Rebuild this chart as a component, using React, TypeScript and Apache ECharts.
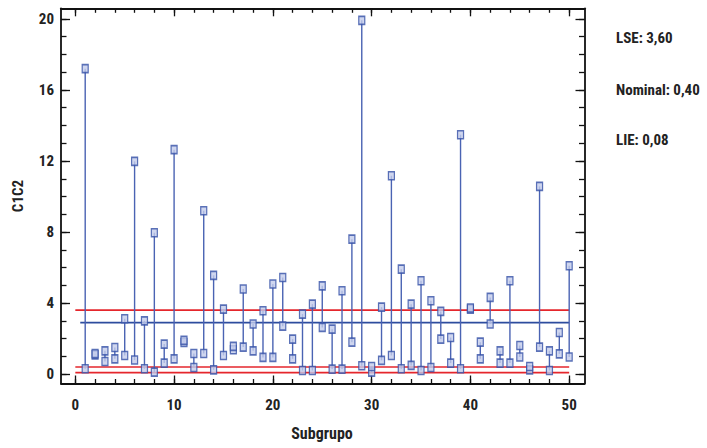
import React, { useEffect, useRef } from "react";
import * as echarts from "echarts";

// Subgroup numbers and the minimum / maximum C1C2 reading of each subgroup
const subgrupos: number[] = Array.from({ length: 50 }, (_, i) => i + 1);
const minimos: number[] = [
  0.3, 1.08, 0.71, 0.86, 1.05, 0.79, 0.3, 0.11, 0.62, 0.86,
  1.78, 0.37, 1.16, 0.24, 1.05, 1.37, 1.52, 1.31, 0.94, 0.94,
  2.7, 0.86, 0.2, 0.2, 2.63, 0.28, 0.28, 1.8, 0.47, 0.11,
  0.77, 1.05, 0.3, 0.49, 0.2, 0.37, 1.97, 0.62, 0.3, 3.66,
  0.86, 2.82, 0.62, 0.62, 0.96, 0.24, 1.52, 0.2, 1.14, 0.96,
];
const maximos: number[] = [
  17.2, 1.15, 1.31, 1.5, 3.12, 11.98, 3.0, 7.96, 1.69, 12.64,
  1.9, 1.16, 9.2, 5.56, 3.66, 1.56, 4.79, 2.82, 3.57, 5.07,
  5.44, 1.97, 3.38, 3.94, 4.97, 2.53, 4.69, 7.6, 19.92, 0.43,
  3.77, 11.17, 5.91, 3.94, 5.26, 4.13, 3.53, 2.06, 13.48, 3.72,
  1.8, 4.32, 1.31, 5.26, 1.61, 0.43, 10.57, 1.31, 2.34, 6.1,
];

// Specification limits and the centre line
const LSE = 3.6;
const nominal = 0.4;
const LIE = 0.08;
const lineaCentral = 2.9;

// Axis ticks and labels
const xEtiquetas: number[] = [0, 10, 20, 30, 40, 50];
const xMenores: number[] = Array.from({ length: 26 }, (_, i) => i * 2);
const yEtiquetas: number[] = [0, 4, 8, 12, 16, 20];
const yMenores: number[] = Array.from({ length: 21 }, (_, i) => i);

const FONT = '"Liberation Sans Narrow", "Arial Narrow", "Roboto Condensed", "Liberation Sans", sans-serif';
const X_MIN = -1.45;
const X_MAX = 51.55;
const Y_MIN = -0.53;
const Y_MAX = 20.6;

const fmtComa = (v: number) => v.toFixed(2).replace(".", ",");

export default function App() {
  const ref = useRef<HTMLDivElement>(null);

  useEffect(() => {
    if (!ref.current) return;
    const chart = echarts.init(ref.current, undefined, { renderer: "svg" });

    const baseX = (position: "bottom" | "top", ticks: number[], len: number, labels: boolean, line: boolean) => ({
      type: "value",
      position,
      min: X_MIN,
      max: X_MAX,
      axisLine: { show: line, onZero: false, lineStyle: { color: "#111", width: 1.8 } },
      axisTick: { show: true, inside: true, length: len, customValues: ticks, lineStyle: { color: "#111", width: 1.3 } },
      axisLabel: labels
        ? { show: true, customValues: xEtiquetas, margin: 14, color: "#222", fontSize: 15, fontWeight: "bold", fontFamily: FONT }
        : { show: false },
      splitLine: { show: false },
    });

    const baseY = (position: "left" | "right", ticks: number[], len: number, labels: boolean, line: boolean) => ({
      type: "value",
      position,
      min: Y_MIN,
      max: Y_MAX,
      axisLine: { show: line, onZero: false, lineStyle: { color: "#111", width: 1.8 } },
      axisTick: { show: true, inside: true, length: len, customValues: ticks, lineStyle: { color: "#111", width: 1.3 } },
      axisLabel: labels
        ? { show: true, customValues: yEtiquetas, margin: 7, color: "#222", fontSize: 15, fontWeight: "bold", fontFamily: FONT }
        : { show: false },
      splitLine: { show: false },
    });

    const extremos = subgrupos.map((s, i) => [s, minimos[i], maximos[i]]);
    const puntosMin = subgrupos.map((s, i) => [s, minimos[i]]);
    const puntosMax = subgrupos.map((s, i) => [s, maximos[i]]);

    const horizontal = (y: number, x0: number, color: string, width: number) => ({
      type: "line",
      data: [[x0, y], [50, y]],
      showSymbol: false,
      symbol: "none",
      silent: true,
      lineStyle: { color, width },
      z: 3,
    });

    const marcador = {
      type: "scatter",
      symbol: "rect",
      symbolSize: [6, 8],
      itemStyle: { color: "#c3cceb", borderColor: "#3550a6", borderWidth: 1.4 },
      z: 5,
    };

    chart.setOption({
      animation: false,
      grid: { left: 61, right: 122.5, top: 8.3, bottom: 64.5, containLabel: false },
      xAxis: [
        baseX("bottom", xEtiquetas, 8, true, true),
        baseX("bottom", xMenores, 4.5, false, false),
        baseX("top", xEtiquetas, 8, false, true),
        baseX("top", xMenores, 4.5, false, false),
      ],
      yAxis: [
        baseY("left", yEtiquetas, 9, true, true),
        baseY("left", yMenores, 5.5, false, false),
        baseY("right", yEtiquetas, 9, false, true),
        baseY("right", yMenores, 5.5, false, false),
      ],
      series: [
        horizontal(LSE, 0, "#e5262c", 1.6),
        horizontal(nominal, 0, "#e5262c", 1.6),
        horizontal(LIE, 0, "#e5262c", 1.6),
        horizontal(lineaCentral, 0.5, "#2d4c9e", 1.6),
        {
          type: "custom",
          data: extremos,
          encode: { x: 0, y: [1, 2] },
          z: 4,
          renderItem: (_params: any, api: any) => {
            const x = api.value(0);
            const a = api.coord([x, api.value(1)]);
            const b = api.coord([x, api.value(2)]);
            return {
              type: "line",
              shape: { x1: a[0], y1: a[1], x2: b[0], y2: b[1] },
              style: { stroke: "#4a63b3", lineWidth: 1.4 },
            };
          },
        },
        { ...marcador, data: puntosMin },
        { ...marcador, data: puntosMax },
      ],
      graphic: [
        {
          type: "text",
          x: 18,
          y: 196,
          rotation: Math.PI / 2,
          style: { text: "C1C2", fill: "#222", font: `bold 15px ${FONT}`, align: "center", verticalAlign: "middle" },
        },
        {
          type: "text",
          x: 322,
          y: 433,
          style: { text: "Subgrupo", fill: "#222", font: `bold 16px ${FONT}`, align: "center", verticalAlign: "middle" },
        },
        {
          type: "text",
          x: 616,
          y: 38,
          style: { text: `LSE: ${fmtComa(LSE)}`, fill: "#222", font: `bold 15px ${FONT}`, verticalAlign: "middle" },
        },
        {
          type: "text",
          x: 616,
          y: 90,
          style: { text: `Nominal: ${fmtComa(nominal)}`, fill: "#222", font: `bold 15px ${FONT}`, verticalAlign: "middle" },
        },
        {
          type: "text",
          x: 616,
          y: 140,
          style: { text: `LIE: ${fmtComa(LIE)}`, fill: "#222", font: `bold 15px ${FONT}`, verticalAlign: "middle" },
        },
      ],
    });

    return () => chart.dispose();
  }, []);

  return <div ref={ref} style={{ width: 707, height: 448, position: "absolute", left: 0, top: 0 }} />;
}
